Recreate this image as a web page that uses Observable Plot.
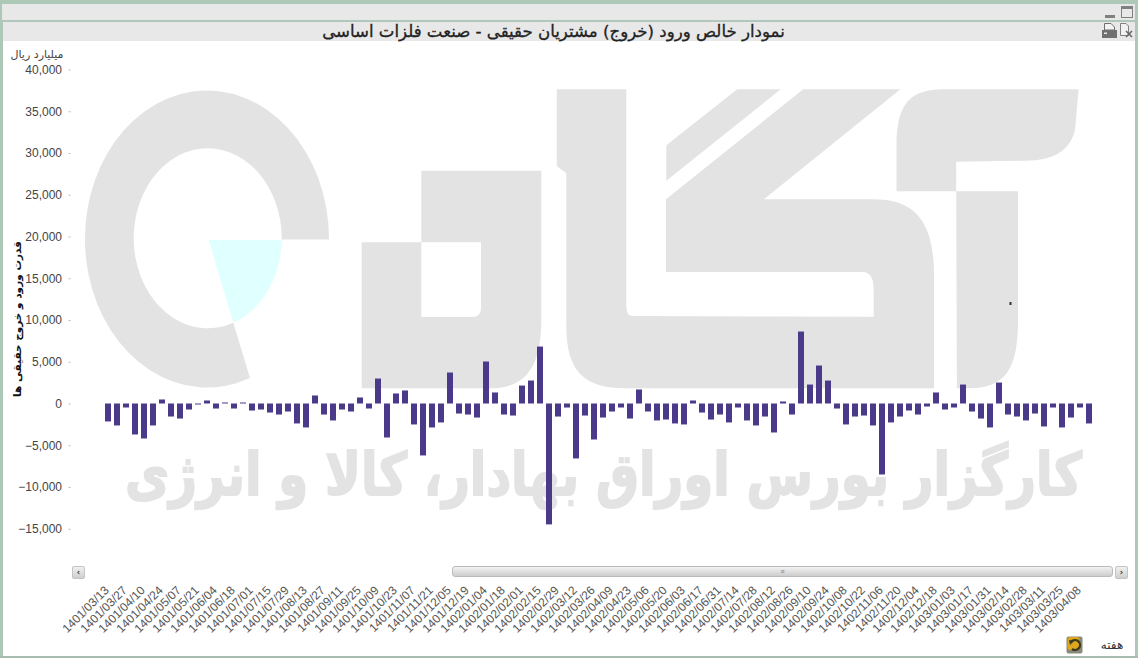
<!DOCTYPE html>
<html lang="fa">
<head>
<meta charset="utf-8">
<title>نمودار خالص ورود</title>
<script src="https://cdn.jsdelivr.net/npm/d3@7"></script>
<script src="https://cdn.jsdelivr.net/npm/@observablehq/plot@0.6"></script>
<style>
html,body{margin:0;padding:0;background:#fff;overflow:hidden}
#page{position:relative;width:1138px;height:658px;background:#fff;overflow:hidden;font-family:"Liberation Sans",sans-serif}
.abs{position:absolute}
#chart{position:absolute;left:0;top:41px}
#chart svg{background:transparent;display:block}
#wm{position:absolute;left:0;top:0}
.btn{position:absolute;top:566px;width:11px;height:11px;border:1px solid #c4c4c4;border-radius:2px;background:linear-gradient(#f0f0f0,#cfcfcf);font:bold 8px/11px "DejaVu Sans",sans-serif;text-align:center;color:#333}
</style>
</head>
<body>
<div id="page">
  <div class="abs" style="left:0;top:0;width:1138px;height:4px;background:#aec8b8"></div>
  <div class="abs" style="left:0;top:0;width:3px;height:658px;background:#aec8b8"></div>
  <div class="abs" style="left:1135px;top:0;width:3px;height:658px;background:#aec8b8"></div>
  <div class="abs" style="left:2px;top:4px;width:1133px;height:16px;background:#e8e8e8"></div>
  <div class="abs" style="left:2px;top:20px;width:1133px;height:2px;background:#b3c6bb"></div>
  <div class="abs" style="left:3px;top:22px;width:1132px;height:19px;background:#e8e8e8"></div>
  <div class="abs" style="left:0;top:656px;width:1138px;height:2px;background:#a9bcb1"></div>

  <svg id="wm" width="1138" height="658" xmlns="http://www.w3.org/2000/svg">
    <g fill="#e3e3e3">
      <path d="M329,239.5 A122,148.5 0 1 0 250,378 L233.3,322.7 A74,90 0 1 1 281.7,239.5 Z"/>
      <path fill-rule="evenodd" d="M361.7,242.3 L421.3,242.3 L421.3,170.7 L541.3,170.7 L541.3,320 C541.3,368 525,388.3 490,388.3 L361.7,388.3 Z M421.3,242.3 L481,242.3 L481,308 Q481,317 471.7,317 L421.3,317 Z"/>
      <path d="M556.8,89.3 L626.3,89.3 L626.3,306 Q626.3,316 633,316 L873.7,316.7 L873.7,290 Q873.7,272 862.8,272 L666,272 L666,199.3 L803.2,89.3 L900.4,89.3 L763.9,199.3 L873,199.3 C916,199.3 934,222 934,276 L934,388.3 L625,388.3 C585,388.3 566.3,372 566.3,326 L566.3,173.3 L556.8,166 Z"/>
      <path d="M666.3,145.3 L737.2,89.3 L780.7,89.3 L666.3,180.7 Z"/>
      <path d="M896.5,191.3 L896.5,146 C896.5,104 910,89.3 943.5,89.3 L1078.6,89.3 L1075,130 C1070,150 1055,160.7 1025,160.7 L956.2,161.7 L956.2,191.3 Z"/>
      <path d="M956.2,191.3 L1018,191.3 L1018,320 C1018,370 1005,388.3 968,388.3 L956.9,388.3 Z"/>
      <text transform="translate(1082,495) scale(1,1.25)" text-anchor="start" direction="rtl" textLength="957" lengthAdjust="spacingAndGlyphs" stroke="#e3e3e3" stroke-width="1.5" style="font:bold 47px 'DejaVu Sans',sans-serif">کارگزار بورس اوراق بهادار، کالا و انرژی</text>
    </g>
    <path fill="#e0ffff" d="M208.7,240 L281.7,240 A74,90 0 0 1 233.3,322.7 Z"/>
    <rect x="1009.5" y="302" width="2" height="3" fill="#333"/>
  </svg>

  <div id="chart"></div>

  <div class="abs" id="title" dir="rtl" style="left:300px;width:507px;top:22px;height:19px;text-align:center;font:16.6px/19px 'DejaVu Sans',sans-serif;color:#222;-webkit-text-stroke:0.3px #222;white-space:nowrap">نمودار خالص ورود (خروج) مشتریان حقیقی - صنعت فلزات اساسی</div>
  <div class="abs" dir="rtl" style="left:9px;width:56px;top:48px;font:11px/14px 'DejaVu Sans',sans-serif;color:#444;text-align:center;white-space:nowrap">میلیارد ریال</div>
  <div class="abs" dir="rtl" style="left:17px;top:319px;width:0;height:0"><div style="position:absolute;left:-100px;top:-8px;width:200px;text-align:center;transform:rotate(-90deg);font:bold 10.5px/16px 'DejaVu Sans',sans-serif;color:#111;white-space:nowrap">قدرت ورود و خروج حقیقی ها</div></div>

  <div class="btn" style="left:72px">‹</div>
  <div class="abs" style="left:452px;top:566px;width:661px;height:11px;border:1px solid #bbb;border-radius:3px;box-sizing:border-box;background:linear-gradient(#f2f2f2,#cdcdcd);text-align:center;font:7px/9px sans-serif;color:#777">≡</div>
  <div class="btn" style="left:1115px">›</div>

  <div class="abs" dir="rtl" style="left:1094px;top:638px;width:36px;font:12px/14px 'DejaVu Sans',sans-serif;color:#333;text-align:center">هفته</div>
  <svg class="abs" style="left:1066px;top:636px" width="18" height="18" xmlns="http://www.w3.org/2000/svg">
    <rect x="0.5" y="0.5" width="16" height="17" rx="2" fill="#8a8a7a"/>
    <rect x="1.5" y="1" width="12" height="13" rx="3" fill="#dca71c"/>
    <path d="M5,6 A5,5 0 1 1 6,13" fill="none" stroke="#3a3a20" stroke-width="2.2"/>
    <path d="M3,4 L8,5 L4,9 Z" fill="#3a3a20"/>
  </svg>
  <svg class="abs" style="left:1100px;top:3px" width="36" height="40" xmlns="http://www.w3.org/2000/svg">
    <rect x="5" y="12" width="10" height="3" fill="#808080"/>
    <rect x="21.5" y="3.5" width="11" height="11" fill="none" stroke="#808080"/>
    <rect x="21.5" y="3.5" width="11" height="2.5" fill="#808080"/>
    <path d="M4.5,20.5 L11,20.5 L14.5,24 L14.5,27 L4.5,27 Z" fill="#f2f2f2" stroke="#707070"/>
    <rect x="2" y="27" width="15" height="8" fill="#707070"/>
    <rect x="4" y="29.5" width="3" height="1.5" fill="#e8e8e8"/>
    <path d="M20.5,20.5 L26,20.5 L28.5,23 L28.5,32.5 L20.5,32.5 Z" fill="#f2f2f2" stroke="#808080"/>
    <path d="M26,28 L32,34 M32,28 L26,34" stroke="#666" stroke-width="1.6"/>
  </svg>
</div>
<script>
const weekLabels = ["1401/03/13","1401/03/27","1401/04/10","1401/04/24","1401/05/07","1401/05/21","1401/06/04","1401/06/18","1401/07/01","1401/07/15","1401/07/29","1401/08/13","1401/08/27","1401/09/11","1401/09/25","1401/10/09","1401/10/23","1401/11/07","1401/11/21","1401/12/05","1401/12/19","1402/01/04","1402/01/18","1402/02/01","1402/02/15","1402/02/29","1402/03/12","1402/03/26","1402/04/09","1402/04/23","1402/05/06","1402/05/20","1402/06/03","1402/06/17","1402/06/31","1402/07/14","1402/07/28","1402/08/12","1402/08/26","1402/09/10","1402/09/24","1402/10/08","1402/10/22","1402/11/06","1402/11/20","1402/12/04","1402/12/18","1403/01/03","1403/01/17","1403/01/31","1403/02/14","1403/02/28","1403/03/11","1403/03/25","1403/04/08"];
const netFlow = [-2150,-2630,-480,-3710,-4190,-2630,480,-1560,-1800,-720,-120,360,-600,120,-600,120,-840,-720,-1080,-1320,-960,-2390,-2870,960,-1320,-2030,-720,-960,720,-600,2990,-4070,1200,1560,-2510,-6220,-2870,-2270,3710,-1200,-1320,-1680,5030,1320,-1320,-1440,2150,2750,6820,-14480,-1560,-480,-6580,-1440,-4310,-1680,-960,-480,-1800,1680,-960,-2030,-1920,-2390,-2510,360,-1080,-1920,-1320,-2270,-480,-2030,-2630,-1560,-3470,240,-1320,8620,2270,4550,2750,-600,-2510,-1560,-1440,-2630,-8500,-2270,-1560,-840,-1320,-360,1320,-720,-480,2270,-960,-1800,-2870,2510,-1320,-1560,-2030,-1200,-2750,-480,-2870,-1680,-480,-2390];
const yTicks = [-15000,-10000,-5000,0,5000,10000,15000,20000,25000,30000,35000,40000];
const positions = netFlow.map((_, i) => i);
const labeled = positions.filter(i => i % 2 === 0);

const chart = Plot.plot({
  width: 1138,
  height: 615,
  marginLeft: 102,
  marginRight: 43,
  marginTop: 28.5,
  marginBottom: 127.25,
  style: {background: "transparent", fontFamily: "'Liberation Sans',sans-serif", fontSize: "12px"},
  x: {type: "band", domain: positions, padding: 1/3, label: null},
  y: {domain: [-15000, 40000], label: null},
  marks: [
    Plot.axisY(yTicks, {anchor: "left", tickSize: 2, tickPadding: 7, dx: -31.5, label: null, stroke: "#bbb", fill: "#444", tickFormat: d3.format(",")}),
    Plot.axisX(labeled, {anchor: "bottom", tickSize: 0, tickPadding: 59, tickRotate: -45, dx: -1.5, label: null, fill: "#555", tickFormat: i => weekLabels[i / 2]}),
    Plot.barY(positions, {x: i => i, y: i => netFlow[i], fill: "#4b3a8a"})
  ]
});
document.getElementById("chart").appendChild(chart);
</script>
</body>
</html>
